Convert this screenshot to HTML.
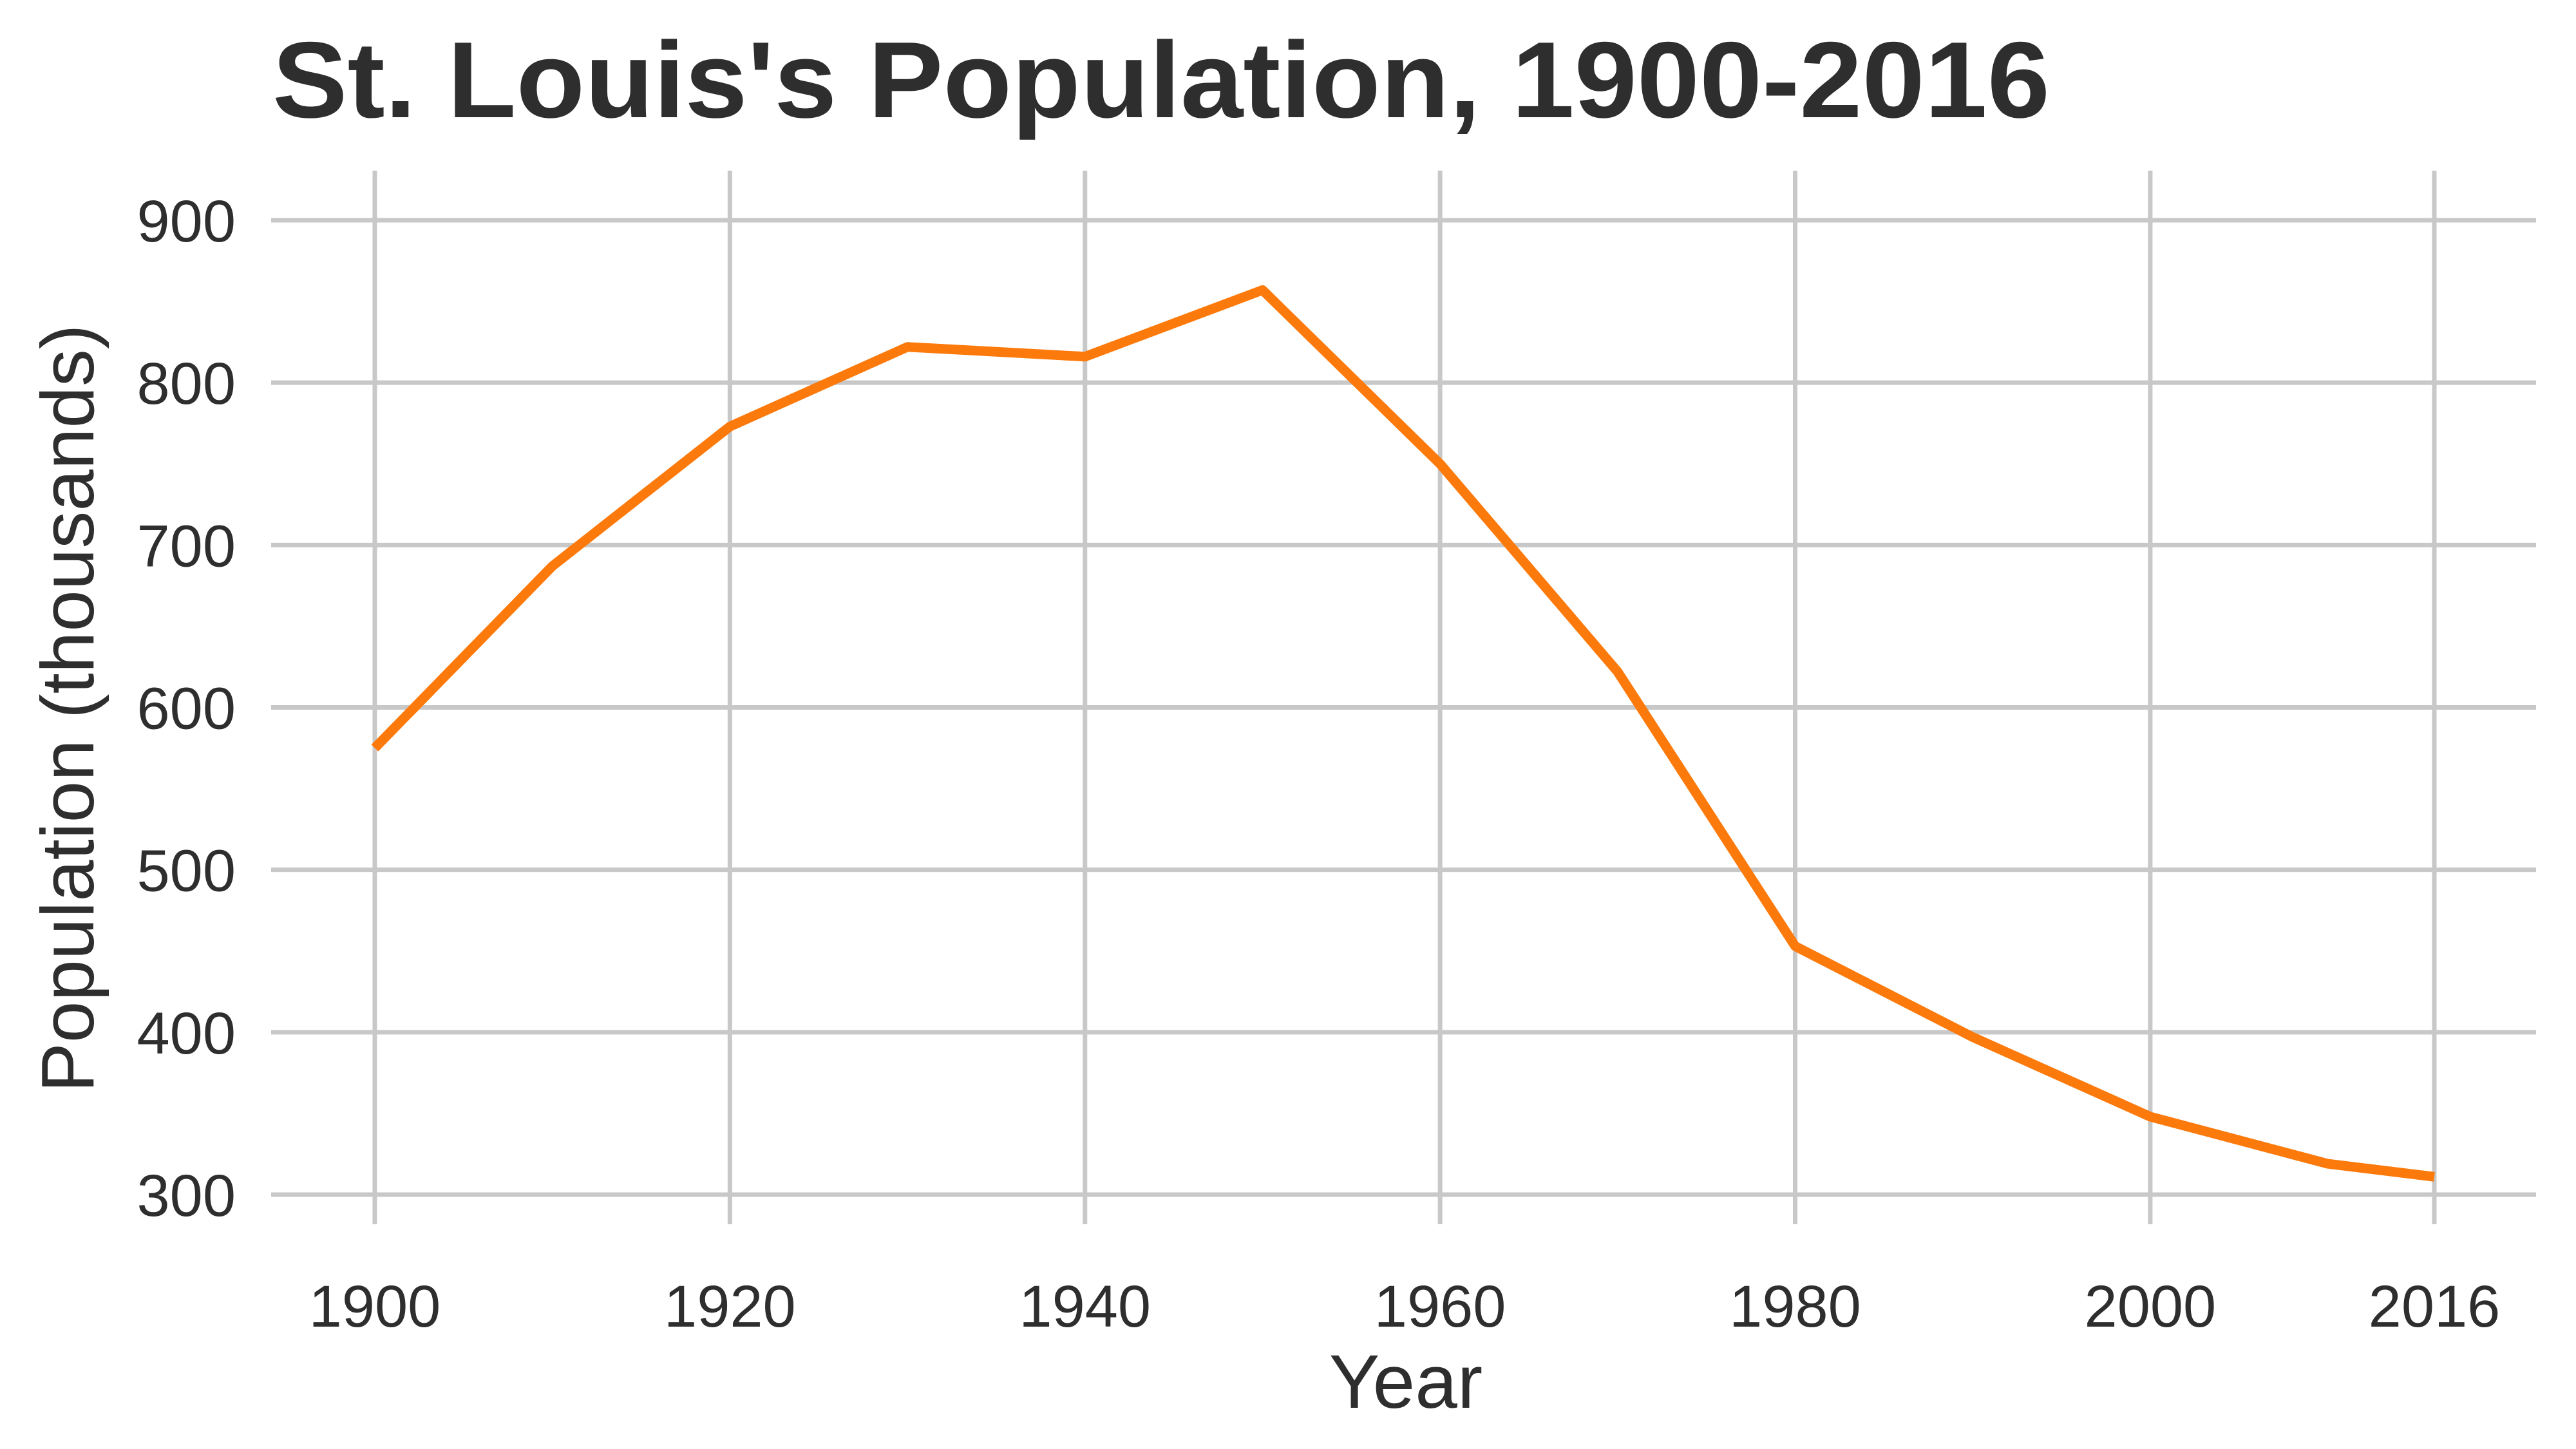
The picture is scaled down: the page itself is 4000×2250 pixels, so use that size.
<!DOCTYPE html>
<html><head><meta charset="utf-8"><style>
html,body{margin:0;padding:0;background:#fff}
svg{display:block;font-family:"Liberation Sans",Arial,sans-serif}
</style></head><body>
<svg id="chart" width="4000" height="2250" viewBox="0 0 4000 2250">
<text x="423" y="182" font-size="168" font-weight="bold" fill="#2e2e2e" textLength="2760" lengthAdjust="spacingAndGlyphs">St. Louis's Population, 1900-2016</text>
<g id="grid"></g>
<g id="ticks"></g>
<path id="line" fill="none" stroke="#fc7a0c" stroke-width="15" stroke-linejoin="round"/>
<text x="2183" y="2186" font-size="118" fill="#2e2e2e" text-anchor="middle">Year</text>
<text transform="translate(145,1100) rotate(-90)" font-size="116" fill="#2e2e2e" text-anchor="middle">Population (thousands)</text>
</svg>
<script>
const years=[1900,1910,1920,1930,1940,1950,1960,1970,1980,1990,2000,2010,2016];
const population=[575,687,773,822,816,857,750,622,453,397,348,319,311];
const xTicks=[1900,1920,1940,1960,1980,2000,2016];
const yTicks=[300,400,500,600,700,800,900];
const NS="http://www.w3.org/2000/svg";
const X=v=>582+(v-1900)*(3780-582)/116;
const Y=v=>1855-(v-300)*(1855-342)/600;
const grid=document.getElementById('grid'),ticks=document.getElementById('ticks');
function mk(tag,attrs,parent){const e=document.createElementNS(NS,tag);for(const k in attrs)e.setAttribute(k,attrs[k]);parent.appendChild(e);return e;}
yTicks.forEach(t=>{
  const l=mk('line',{x1:421,x2:3938,y1:Y(t),y2:Y(t),stroke:'#c8c8c8','stroke-width':7},grid);
  
  
  const tx=mk('text',{x:366,y:Y(t)+33,'font-size':92,fill:'#2e2e2e','text-anchor':'end'},ticks);
  tx.textContent=t;
  
  
});
xTicks.forEach(t=>{
  const l=mk('line',{x1:X(t),x2:X(t),y1:265,y2:1901,stroke:'#c8c8c8','stroke-width':7},grid);
  
  
  const tx=mk('text',{x:X(t),y:2060,'font-size':92,fill:'#2e2e2e','text-anchor':'middle'},ticks);
  tx.textContent=t;
  
  
});
document.getElementById('line').setAttribute('d',years.map((y,i)=>(i?'L':'M')+X(y).toFixed(1)+' '+Y(population[i]).toFixed(1)).join(' '));
</script>
</body></html>
